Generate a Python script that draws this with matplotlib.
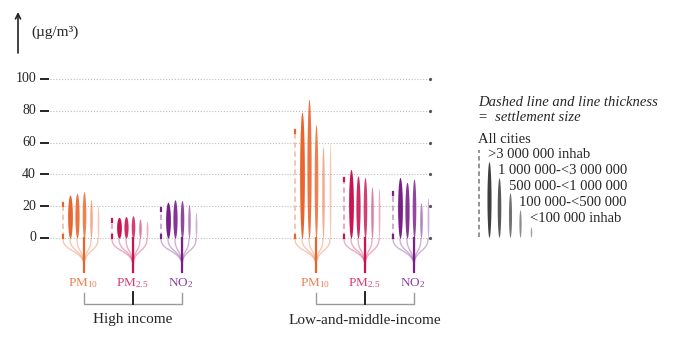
import numpy as np
import matplotlib
matplotlib.use("Agg")
import matplotlib.pyplot as plt

plt.rcParams['font.family'] = ['Liberation Serif', 'DejaVu Serif']
plt.rcParams['mathtext.fontset'] = 'custom'
plt.rcParams['mathtext.rm'] = 'Liberation Serif'
plt.rcParams['mathtext.it'] = 'Liberation Serif:italic'

# ---------------- data ----------------
income_groups = ["High income", "Low-and-middle-income"]
pollutants = ["PM10", "PM2.5", "NO2"]
pollutant_labels = [r"PM$_{\mathregular{10}}$", r"PM$_{\mathregular{2.5}}$", r"NO$_{\mathregular{2}}$"]
size_classes = [">3 000 000 inhab", "1 000 000-<3 000 000", "500 000-<1 000 000",
                "100 000-<500 000", "<100 000 inhab"]
yticks = [0, 20, 40, 60, 80, 100]

# all cities (dashed line) per income group, per pollutant
high_all = [22, 12, 19]
lmi_all = [68, 38, 29]
# by settlement size (largest -> smallest)
high_pm10 = [27, 28, 29, 24, 20]
high_pm25 = [13, 13.5, 14, 12, 10.5]
high_no2 = [22.5, 24, 23.5, 21, 16]
lmi_pm10 = [79, 87, 71, 57, 59]
lmi_pm25 = [43, 39, 38, 32, 31]
lmi_no2 = [38, 35, 37, 22, 25]

all_vals = [high_all, lmi_all]
by_size = [[high_pm10, high_pm25, high_no2], [lmi_pm10, lmi_pm25, lmi_no2]]

colors = ["#E8662E", "#C81452", "#782088"]
label_colors = ["#EF7E50", "#D63A72", "#8A3FA0"]
text_col = "#262626"

# ---------------- layout helpers ----------------
W, H = 683, 343
Y0, PPU = 238.0, 1.59          # pixel row of value 0, pixels per unit


def d(py):
    """pixel row -> data y"""
    return (Y0 - py) / PPU


fig = plt.figure(figsize=(W / 100, H / 100), dpi=100)
ax = fig.add_axes([0, 0, 1, 1])
ax.set_xlim(0, W)
ax.set_ylim(d(H), d(0))
ax.axis("off")

# grid lines and ticks
for v in yticks:
    ax.plot([50, 428], [v, v], color="#bdbdbd", lw=0.8, ls=(0, (1, 1.6)), zorder=1)
    ax.plot([430], [v], marker="o", ms=1.3, color="#555555", zorder=1)
    ax.plot([41, 48], [v, v], color="#222222", lw=1.4, zorder=2)
    ax.text(36, v, str(v), ha="right", va="center", fontsize=10, color=text_col)

# y axis arrow + unit
ax.annotate("", xy=(18, d(12)), xytext=(18, d(53)),
            arrowprops=dict(arrowstyle="->", lw=1.2, color="#222222",
                            shrinkA=0, shrinkB=0, mutation_scale=9))
ax.text(31, d(32), "(µg/m³)", ha="left", va="center", fontsize=11, color=text_col)

widths = [4.8, 4.2, 3.6, 2.6, 1.8]
alphas = [1.0, 0.9, 0.82, 0.55, 0.35]


def spindle(xc, top, wmax, color, alpha, bottom=0.0):
    t = np.linspace(0, 1, 120)
    y = bottom + t * (top - bottom)
    hw = 0.5 * wmax * np.sin(np.pi * t) ** 0.45
    hw = np.maximum(hw, 0.35)
    ax.fill_betweenx(y, xc - hw, xc + hw, color=color, alpha=alpha, lw=0, zorder=3)


def dashed(xc, top, color, bottom=0.0):
    ax.plot([xc, xc], [bottom, top], color=color, alpha=0.4, lw=1.3,
            ls=(0, (3, 2)), zorder=3, solid_capstyle="butt")
    cap = 3 / PPU
    ax.plot([xc, xc], [top - cap, top], color=color, lw=1.6, zorder=4)
    ax.plot([xc, xc], [bottom, bottom + cap], color=color, lw=1.6, zorder=4)


def bezier(p0, p1, p2, p3, n=40):
    t = np.linspace(0, 1, n)[:, None]
    pts = ((1 - t) ** 3) * np.array(p0) + 3 * ((1 - t) ** 2) * t * np.array(p1) \
        + 3 * (1 - t) * t ** 2 * np.array(p2) + t ** 3 * np.array(p3)
    return pts[:, 0], pts[:, 1]


group_x0 = [84, 316]
step_p = 49
step_s = 7

for g, gname in enumerate(income_groups):
    centers = [group_x0[g] + k * step_p for k in range(3)]
    for k, pol in enumerate(pollutants):
        xc = centers[k]
        col = colors[k]
        xs = [xc + (i - 3) * step_s for i in range(6)]
        # branches
        for i, x in enumerate(xs):
            bx, by = bezier((x, 239), (x, 252), (xc, 250), (xc, 266))
            ax.plot(bx, [d(v) for v in by], color=col, alpha=0.35, lw=1.0, zorder=2)
        # stem
        ax.plot([xc, xc], [0, d(272)], color=col, lw=1.6, zorder=3)
        # all cities dashed
        dashed(xs[0], all_vals[g][k], col)
        # settlement sizes
        for i, v in enumerate(by_size[g][k]):
            spindle(xs[i + 1], v, widths[i], col, alphas[i])
        ax.text(xc - 1, d(283), pollutant_labels[k], ha="center", va="center",
                fontsize=9.5, color=label_colors[k])
    # bracket
    ax.plot([centers[0], centers[0], centers[2], centers[2]],
            [d(293), d(304), d(304), d(293)], color="#9a9a9a", lw=1.0, zorder=2)
    ax.plot([centers[1], centers[1]], [d(292), d(304)], color="#111111", lw=1.3, zorder=3)
    ax.text(centers[1], d(320), gname, ha="center", va="center",
            fontsize=11, color=text_col)

# legend
ax.text(478, d(103), "Dashed line and line thickness", ha="left", va="center",
        fontsize=10.5, style="italic", color=text_col)
ax.text(478, d(118), "=  settlement size", ha="left", va="center",
        fontsize=10.5, style="italic", color=text_col)
ax.text(478, d(140), "All cities", ha="left", va="center", fontsize=10.5, color=text_col)
leg_col = "#2a2a2a"
ax.plot([479, 479], [d(237), d(150)], color="#777777", lw=1.1, ls=(0, (3, 2)), zorder=3)
leg_x = [489, 499, 510, 520, 531]
leg_top = [162, 178, 193, 210, 227]
leg_txt_y = [155, 171, 187, 203, 219]
for i, lab in enumerate(size_classes):
    spindle(leg_x[i], d(leg_top[i]), widths[i] * 0.85, leg_col, 0.9 - 0.12 * i, bottom=d(237))
    ax.text(leg_x[i] - 1, d(leg_txt_y[i]), lab, ha="left", va="center",
            fontsize=10.5, color=text_col)

fig.savefig("out.png", dpi=100, facecolor="white")
